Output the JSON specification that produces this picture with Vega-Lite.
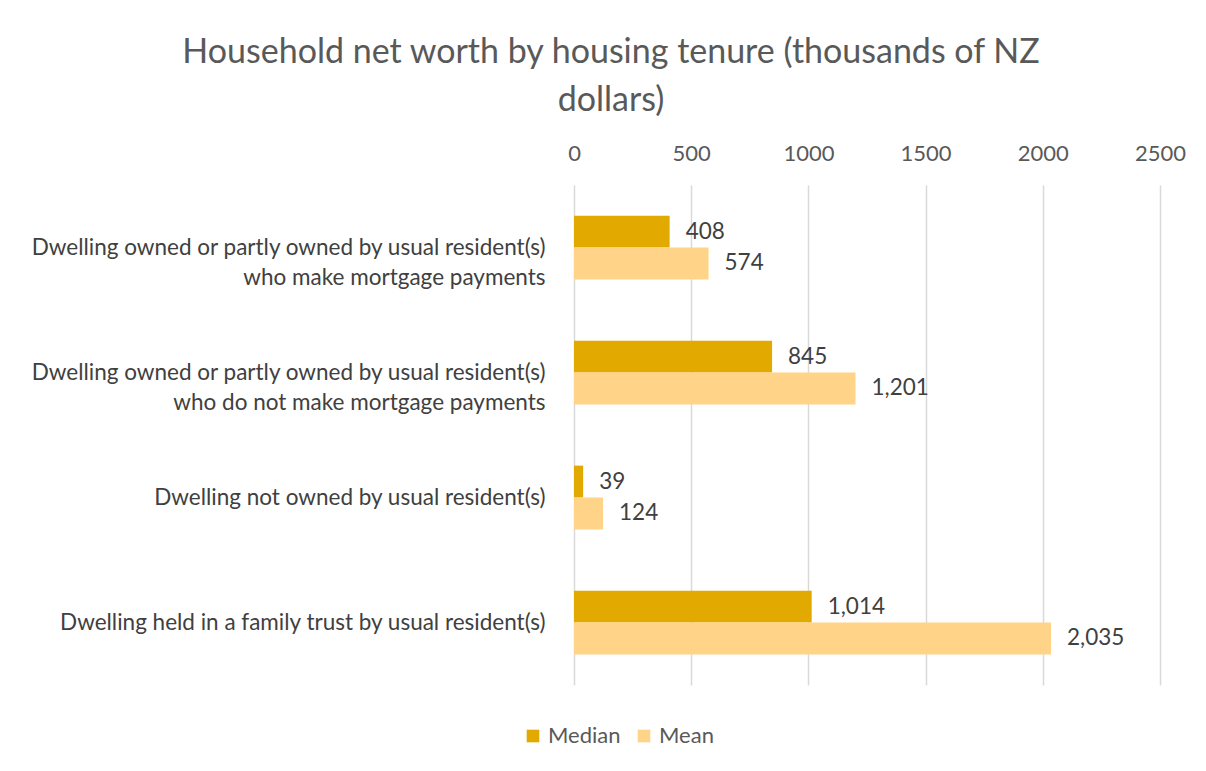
{
  "$schema": "https://vega.github.io/schema/vega-lite/v6.json",
  "width": 586,
  "height": 500,
  "autosize": "none",
  "padding": {"left": 574, "top": 185, "right": 46, "bottom": 86},
  "background": "white",
  "title": {
    "text": ["Household net worth by housing tenure (thousands of NZ", "dollars)"],
    "anchor": "middle",
    "frame": "group",
    "dx": -256,
    "offset": 24,
    "fontSize": 34,
    "font": "Lato",
    "fontWeight": "normal",
    "color": "#595959",
    "lineHeight": 48
  },
  "data": {
    "values": [
      {"category": "Dwelling owned or partly owned by usual resident(s)|who make mortgage payments", "stat": "Median", "value": 408},
      {"category": "Dwelling owned or partly owned by usual resident(s)|who make mortgage payments", "stat": "Mean", "value": 574},
      {"category": "Dwelling owned or partly owned by usual resident(s)|who do not make mortgage payments", "stat": "Median", "value": 845},
      {"category": "Dwelling owned or partly owned by usual resident(s)|who do not make mortgage payments", "stat": "Mean", "value": 1201},
      {"category": "Dwelling not owned by usual resident(s)", "stat": "Median", "value": 39},
      {"category": "Dwelling not owned by usual resident(s)", "stat": "Mean", "value": 124},
      {"category": "Dwelling held in a family trust by usual resident(s)", "stat": "Median", "value": 1014},
      {"category": "Dwelling held in a family trust by usual resident(s)", "stat": "Mean", "value": 2035}
    ]
  },
  "encoding": {
    "y": {
      "field": "category",
      "type": "nominal",
      "sort": null,
      "scale": {"paddingInner": 0.49, "paddingOuter": 0.245},
      "axis": {
        "title": null,
        "labelExpr": "split(datum.label, '|')",
        "labelFont": "Lato",
        "labelFontSize": 22.5,
        "labelColor": "#404040",
        "labelPadding": 29,
        "labelLineHeight": 30,
        "labelLimit": 600,
        "ticks": false,
        "domain": false,
        "grid": false
      }
    },
    "yOffset": {"field": "stat", "type": "nominal", "sort": ["Median", "Mean"], "scale": {"paddingInner": 0}},
    "x": {
      "field": "value",
      "type": "quantitative",
      "scale": {"domain": [0, 2500], "nice": false},
      "axis": {
        "orient": "top",
        "title": null,
        "values": [0, 500, 1000, 1500, 2000, 2500],
        "format": "d",
        "labelFlush": false,
        "labelFont": "Lato",
        "labelFontSize": 22,
        "labelColor": "#595959",
        "labelPadding": 20,
        "ticks": false,
        "domain": false,
        "grid": true,
        "gridColor": "#d9d9d9",
        "gridWidth": 1.5
      }
    }
  },
  "layer": [
    {
      "mark": {"type": "bar"},
      "encoding": {
        "color": {
          "field": "stat",
          "type": "nominal",
          "sort": ["Median", "Mean"],
          "scale": {"domain": ["Median", "Mean"], "range": ["#E2AA00", "#FFD388"]},
          "legend": {
            "title": null,
            "orient": "none",
            "direction": "horizontal",
            "legendX": -52,
            "legendY": 540,
            "symbolType": "square",
            "symbolSize": 160,
            "symbolStrokeWidth": 0,
            "labelFont": "Lato",
            "labelFontSize": 22,
            "labelColor": "#595959",
            "columnPadding": 12
          }
        }
      }
    },
    {
      "mark": {"type": "text", "align": "left", "baseline": "middle", "dx": 16, "font": "Lato", "fontSize": 22.5, "color": "#404040"},
      "encoding": {
        "text": {"field": "value", "type": "quantitative", "format": ","}
      }
    }
  ],
  "config": {"view": {"stroke": null}}
}
